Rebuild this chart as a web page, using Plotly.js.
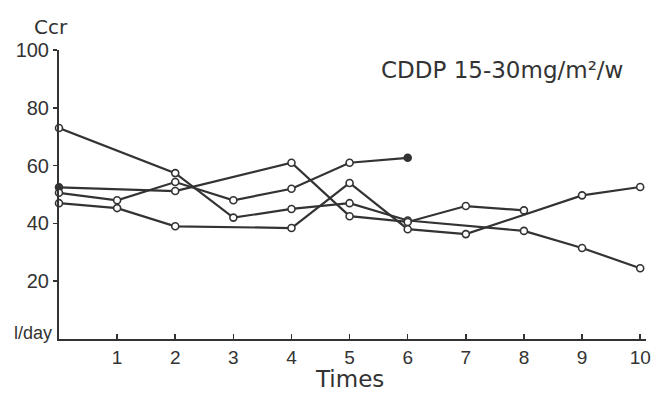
<!DOCTYPE html>
<html>
<head>
<meta charset="utf-8">
<script src="https://cdn.plot.ly/plotly-3.0.1.min.js"></script>
<style>html,body{margin:0;padding:0;background:#fff;}#chart{width:651px;height:393px;}</style>
</head>
<body>
<div id="chart"></div>
<script>
// Data (Ccr, l/day vs. times)
const s1x = [0, 2, 3, 4, 5, 6, 8, 9, 10];
const s1y = [73, 57.4, 42, 45, 47, 41, 37.4, 31.5, 24.5];
const s2x = [0, 2, 4, 5, 6, 7, 8];
const s2y = [52.5, 51.2, 61, 42.5, 40.5, 46, 44.5];
const s3x = [0, 1, 2, 3, 4, 5, 6];
const s3y = [50.6, 48, 54.3, 48, 52, 61, 62.7];
const s4x = [0, 1, 2, 4, 5, 6, 7, 9, 10];
const s4y = [47, 45.3, 39, 38.4, 54, 38, 36.3, 49.7, 52.6];

const xTickVals = [1, 2, 3, 4, 5, 6, 7, 8, 9, 10];
const xTickText = ['1', '2', '3', '4', '5', '6', '7', '8', '9', '10'];
const yTickVals = [20, 40, 60, 80, 100];
const yTickText = ['20', '40', '60', '80', '100'];

const ink = '#333333';
const fontFam = 'Liberation Sans, Arial, sans-serif';
const wideFam = 'DejaVu Sans, Verdana, sans-serif';

function series(x, y, filledLast, filledFirst) {
  const fills = x.map((_, i) => ((filledLast && i === x.length - 1) || (filledFirst && i === 0)) ? ink : '#ffffff');
  return {
    x: x, y: y, type: 'scatter', mode: 'lines+markers',
    line: {color: ink, width: 2.2},
    marker: {symbol: 'circle', size: 7, color: fills, line: {color: ink, width: 1.6}},
    cliponaxis: false, showlegend: false, hoverinfo: 'skip'
  };
}

const data = [
  series(s1x, s1y, false, false),
  series(s2x, s2y, false, true),
  series(s3x, s3y, true, false),
  series(s4x, s4y, false, false)
];

const layout = {
  width: 651, height: 393,
  margin: {l: 59, r: 5, t: 50, b: 54},
  paper_bgcolor: '#ffffff', plot_bgcolor: '#ffffff',
  font: {family: fontFam, color: ink},
  showlegend: false,
  xaxis: {
    range: [0, 10.1], showgrid: false, zeroline: false,
    showline: true, linecolor: ink, linewidth: 2,
    tickmode: 'array', tickvals: xTickVals, ticktext: xTickText,
    ticks: 'inside', ticklen: 5, tickwidth: 1.5, tickcolor: ink,
    tickfont: {size: 19, family: fontFam, color: ink}
  },
  yaxis: {
    range: [0, 100], showgrid: false, zeroline: false,
    showline: true, linecolor: ink, linewidth: 2,
    tickmode: 'array', tickvals: yTickVals, ticktext: yTickText,
    ticks: 'outside', ticklen: 4, tickwidth: 1.5, tickcolor: ink,
    ticklabelstandoff: 0,
    tickfont: {size: 20, family: fontFam, color: ink}
  },
  annotations: [
    {text: 'Times', xref: 'paper', yref: 'paper', x: 0.495, y: -0.138, xanchor: 'center', yanchor: 'middle',
     showarrow: false, font: {size: 23, family: wideFam, color: ink}},
    {text: 'Ccr', xref: 'paper', yref: 'paper', x: -0.014, y: 1.08, xanchor: 'center', yanchor: 'middle',
     showarrow: false, font: {size: 20, family: wideFam, color: ink}},
    {text: 'l/day', xref: 'paper', yref: 'y', x: -0.008, y: 2, xanchor: 'right', yanchor: 'middle',
     showarrow: false, font: {size: 18, family: fontFam, color: ink}},
    {text: 'CDDP 15-30mg/m²/w', xref: 'x', yref: 'y', x: 5.5, y: 93, xanchor: 'left', yanchor: 'middle',
     showarrow: false, font: {size: 23, family: wideFam, color: ink}}
  ]
};

Plotly.newPlot('chart', data, layout, {displayModeBar: false, staticPlot: true});
</script>
</body>
</html>
